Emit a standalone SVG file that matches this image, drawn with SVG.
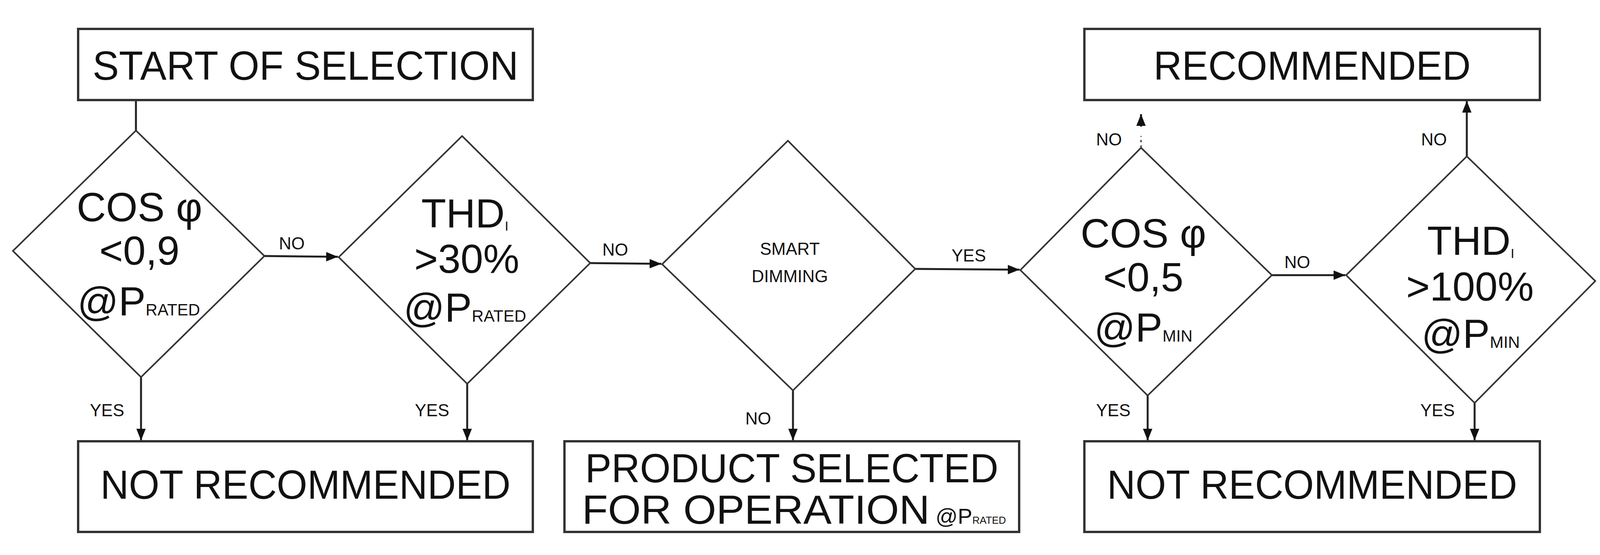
<svg xmlns="http://www.w3.org/2000/svg" width="4120" height="1420" viewBox="0 0 4120 1420">
<defs>
<style>
.box{fill:#fff;stroke:#333;stroke-width:6}
.dia{fill:#fff;stroke:#333;stroke-width:4}
.big{font-family:"Liberation Sans",Arial,sans-serif;font-size:104px;fill:#111;text-anchor:middle}
.lab{font-family:"Liberation Sans",Arial,sans-serif;font-size:44px;fill:#111}
.sub{font-size:42px}
.c{fill:none;stroke:#222;stroke-width:5}
</style>
<marker id="a" viewBox="0 0 10 10" refX="10" refY="5" markerWidth="30" markerHeight="30" markerUnits="userSpaceOnUse" orient="auto"><path d="M0,1 L10,5 L0,9 z" fill="#111"/></marker>
</defs>
<rect width="4120" height="1420" fill="#fff"/>
<g id="connectors">
<line class="c" x1="348" y1="256" x2="348" y2="334"/>
<line class="c" x1="677" y1="655" x2="865" y2="657" marker-end="url(#a)"/>
<line class="c" x1="1511" y1="673" x2="1693" y2="675" marker-end="url(#a)"/>
<line class="c" x1="2343" y1="688" x2="2610" y2="690" marker-end="url(#a)"/>
<line class="c" x1="3256" y1="704" x2="3444" y2="704" marker-end="url(#a)"/>
<line class="c" x1="361" y1="965" x2="361" y2="1127" marker-end="url(#a)"/>
<line class="c" x1="1196" y1="982" x2="1196" y2="1127" marker-end="url(#a)"/>
<line class="c" x1="2030" y1="999" x2="2030" y2="1127" marker-end="url(#a)"/>
<line class="c" x1="2938" y1="1012" x2="2938" y2="1127" marker-end="url(#a)"/>
<line class="c" x1="3775" y1="1031" x2="3775" y2="1127" marker-end="url(#a)"/>
<line x1="2921" y1="378" x2="2921" y2="348" stroke="#222" stroke-width="3" stroke-dasharray="6,8"/>
<line class="c" x1="2921" y1="324" x2="2921" y2="292" marker-end="url(#a)" stroke-width="2"/>
<line class="c" x1="3755" y1="400" x2="3755" y2="258" marker-end="url(#a)"/>
<text class="lab" x="714" y="638">NO</text>
<text class="lab" x="1542" y="654">NO</text>
<text class="lab" x="2436" y="669">YES</text>
<text class="lab" x="3288" y="686">NO</text>
<text class="lab" x="230" y="1065">YES</text>
<text class="lab" x="1062" y="1065">YES</text>
<text class="lab" x="1908" y="1086">NO</text>
<text class="lab" x="2806" y="1065">YES</text>
<text class="lab" x="3636" y="1065">YES</text>
<text class="lab" x="2806" y="372">NO</text>
<text class="lab" x="3638" y="372">NO</text>
</g>
<g id="start"><rect class="box" x="200" y="74" width="1164" height="182"/><text class="big" x="782" y="204" textLength="1090" lengthAdjust="spacingAndGlyphs">START OF SELECTION</text></g>
<g id="recommended"><rect class="box" x="2776" y="74" width="1166" height="182"/><text class="big" x="3359" y="204" textLength="812" lengthAdjust="spacingAndGlyphs">RECOMMENDED</text></g>
<g id="notrec1"><rect class="box" x="200" y="1129" width="1164" height="232"/><text class="big" x="782" y="1276" textLength="1050" lengthAdjust="spacingAndGlyphs">NOT RECOMMENDED</text></g>
<g id="selected"><rect class="box" x="1445" y="1129" width="1164" height="232"/><text class="big" x="2027" y="1234" font-size="88" textLength="1058" lengthAdjust="spacingAndGlyphs">PRODUCT SELECTED</text><text class="big" x="1490" y="1340" font-size="88" style="text-anchor:start"><tspan textLength="890" lengthAdjust="spacingAndGlyphs">FOR OPERATION</tspan><tspan dx="15" font-size="56">@P</tspan><tspan font-size="26">RATED</tspan></text></g>
<g id="notrec2"><rect class="box" x="2776" y="1129" width="1166" height="232"/><text class="big" x="3359" y="1276" textLength="1050" lengthAdjust="spacingAndGlyphs">NOT RECOMMENDED</text></g>
<g id="d1"><polygon class="dia" points="348,334 677,655 361,965 33,642"/><text class="big" x="357" y="566">COS φ</text><text class="big" x="357" y="677">&lt;0,9</text><text class="big" x="355" y="807">@P<tspan class="sub">RATED</tspan></text></g>
<g id="d2"><polygon class="dia" points="1183,348 1511,673 1196,982 867,658"/><text class="big" x="1190" y="582">THD<tspan font-size="34" dy="8">I</tspan></text><text class="big" x="1195" y="698">&gt;30%</text><text class="big" x="1190" y="823">@P<tspan class="sub">RATED</tspan></text></g>
<g id="d3"><polygon class="dia" points="2017,360 2343,688 2030,999 1695,676"/><text class="lab" x="2022" y="652" text-anchor="middle" font-size="48">SMART</text><text class="lab" x="2022" y="722" text-anchor="middle" font-size="48">DIMMING</text></g>
<g id="d4"><polygon class="dia" points="2921,378 3256,704 2938,1012 2612,691"/><text class="big" x="2927" y="633">COS φ</text><text class="big" x="2927" y="745">&lt;0,5</text><text class="big" x="2927" y="874">@P<tspan class="sub">MIN</tspan></text></g>
<g id="d5"><polygon class="dia" points="3755,400 4084,719 3775,1031 3446,704"/><text class="big" x="3765" y="652">THD<tspan font-size="34" dy="8">I</tspan></text><text class="big" x="3763" y="769">&gt;100%</text><text class="big" x="3765" y="890">@P<tspan class="sub">MIN</tspan></text></g>
</svg>
